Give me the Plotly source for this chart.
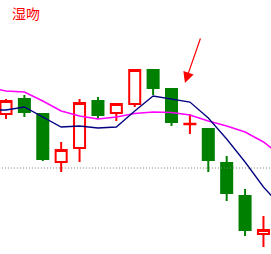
import plotly.graph_objects as go

# ---- data (price units) ----
idx = list(range(15))
opens  = [14.30, 15.05, 14.30, 11.90, 12.60, 14.95, 14.35, 14.80, 16.50, 15.55, 13.79, 13.55, 11.85, 10.20, 8.30]
closes = [14.95, 14.40, 12.05, 12.50, 14.85, 14.25, 14.80, 16.50, 15.60, 13.90, 13.81, 12.00, 10.35, 8.50, 8.50]
highs  = [15.05, 15.25, 14.30, 12.90, 15.05, 15.15, 14.85, 16.50, 16.55, 15.55, 14.30, 13.55, 12.20, 10.55, 9.20]
lows   = [14.05, 14.15, 11.95, 11.40, 11.90, 14.05, 13.95, 14.65, 15.25, 13.70, 13.30, 11.40, 9.95, 8.20, 7.65]

# moving averages, including one period before and after the visible window
ma_idx   = list(range(-1, 16))
ma_short = [14.50, 14.50, 14.65, 14.15, 13.65, 13.70, 13.60, 13.65, 14.45, 15.20, 15.05, 14.90, 14.10, 13.05, 11.90, 10.65, 9.65]
ma_long  = [15.65, 15.45, 15.40, 14.95, 14.45, 14.20, 14.05, 14.15, 14.33, 14.40, 14.38, 14.25, 13.95, 13.70, 13.40, 12.90, 12.20]

ref_level = 11.60
title_text = "湿吻"
arrow_head = (9.73, 15.85)
arrow_tail = (10.60, 18.15)

fig = go.Figure()
fig.add_trace(go.Candlestick(
    x=idx, open=opens, high=highs, low=lows, close=closes,
    increasing=dict(line=dict(color="#FF0000", width=2), fillcolor="#FFFFFF"),
    decreasing=dict(line=dict(color="#008000", width=2), fillcolor="#008000"),
    whiskerwidth=0, hoverinfo="skip", showlegend=False,
))
fig.add_trace(go.Scatter(x=ma_idx, y=ma_long, mode="lines",
                         line=dict(color="#FF00FF", width=1.5), hoverinfo="skip", showlegend=False))
fig.add_trace(go.Scatter(x=ma_idx, y=ma_short, mode="lines",
                         line=dict(color="#000080", width=1.3), hoverinfo="skip", showlegend=False))

fig.add_shape(type="line", xref="paper", x0=0.007, x1=1, yref="y", y0=ref_level, y1=ref_level,
              line=dict(color="#808080", width=1, dash="1px,2px"))

fig.add_annotation(x=arrow_head[0], y=arrow_head[1], ax=arrow_tail[0], ay=arrow_tail[1],
                   xref="x", yref="y", axref="x", ayref="y", text="", showarrow=True,
                   arrowhead=2, arrowsize=1.8, arrowwidth=1.2, arrowcolor="#FF0000")
fig.add_annotation(x=11/271, y=1-2/254, xref="paper", yref="paper", xanchor="left", yanchor="top",
                   text=title_text, showarrow=False,
                   font=dict(family="Noto Sans CJK SC", size=14, color="#FF0000"), borderpad=0)

fig.update_layout(
    width=271, height=254, margin=dict(l=0, r=0, t=0, b=0),
    paper_bgcolor="white", plot_bgcolor="white", boxgap=0.4, boxgroupgap=0,
    xaxis=dict(range=[-0.326, 14.41], visible=False, rangeslider=dict(visible=False)),
    yaxis=dict(range=[7.3, 20], visible=False),
    showlegend=False,
)
fig.write_html("out.html", config={"displayModeBar": False})
